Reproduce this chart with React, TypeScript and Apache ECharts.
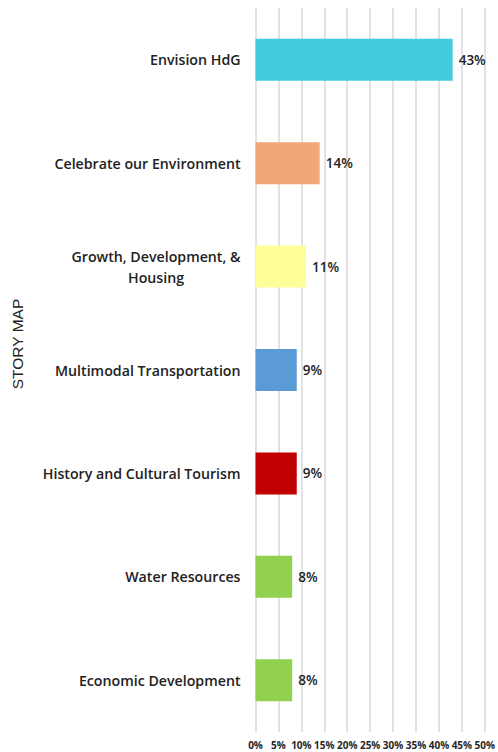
import React, { useEffect, useRef } from "react";
import * as echarts from "echarts";

const categories = [
  "Envision HdG",
  "Celebrate our Environment",
  "Growth, Development, &\nHousing",
  "Multimodal Transportation",
  "History and Cultural Tourism",
  "Water Resources",
  "Economic Development",
];
const values = [43, 14, 11, 9, 9, 8, 8];
const colors = ["#41CBDC", "#F1A878", "#FFFF99", "#5B9BD5", "#C00000", "#92D050", "#92D050"];
const axisTitle = "STORY MAP";

export default function App() {
  const ref = useRef<HTMLDivElement>(null);
  useEffect(() => {
    const chart = echarts.init(ref.current!, null, { renderer: "svg" });
    chart.setOption({
      animation: false,
      grid: { left: 255.5, right: 9, top: 8, bottom: 20, containLabel: false },
      xAxis: {
        type: "value",
        min: 0,
        max: 50,
        interval: 5,
        axisLine: { show: false },
        axisTick: { show: false },
        splitLine: { show: true, lineStyle: { color: "#D9D9D9", width: 1.5 } },
        axisLabel: {
          formatter: "{value}%",
          fontFamily: "Open Sans",
          fontWeight: "bold",
          fontSize: 10,
          color: "#262626",
          margin: 8,
        },
      },
      yAxis: {
        type: "category",
        inverse: true,
        data: categories,
        axisLine: { show: false },
        axisTick: { show: false },
        splitLine: { show: false },
        axisLabel: {
          margin: 15,
          formatter: (v: string) =>
            v
              .split("\n")
              .map((l) => "{a|" + l + "}")
              .join("\n"),
          rich: {
            a: {
              fontFamily: "Open Sans",
              fontWeight: 600,
              fontSize: 14.2,
              color: "#222222",
              align: "center",
              lineHeight: 21,
            },
          },
        },
      },
      graphic: [
        {
          type: "text",
          x: 17.5,
          y: 344,
          rotation: Math.PI / 2,
          style: {
            text: axisTitle,
            fontFamily: "Liberation Sans",
            fontSize: 15.5,
            fill: "#222222",
            textAlign: "center",
            textVerticalAlign: "middle",
          },
        },
      ],
      series: [
        {
          type: "bar",
          barWidth: 42,
          data: values.map((v, i) => ({ value: v, itemStyle: { color: colors[i] } })),
          label: {
            show: true,
            position: "right",
            distance: 6,
            formatter: "{c}%",
            fontFamily: "Open Sans",
            fontWeight: 600,
            fontSize: 13.5,
            color: "#222222",
          },
        },
      ],
    });
    return () => chart.dispose();
  }, []);
  return (
    <div
      ref={ref}
      style={{ position: "absolute", left: 0, top: 0, width: 498, height: 752, background: "#fff" }}
    />
  );
}
